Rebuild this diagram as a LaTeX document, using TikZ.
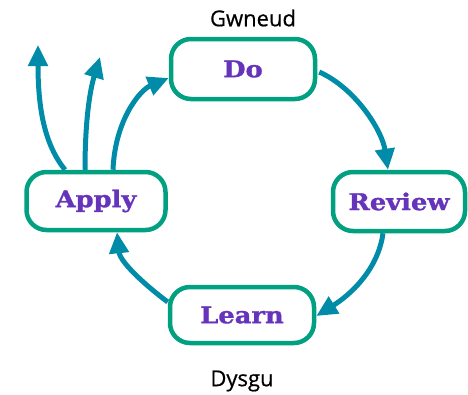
\documentclass[tikz,border=0pt]{standalone}
\usepackage{fontspec}
\newfontfamily\boxfont{DejaVu Serif}[FakeStretch=1.12,FakeBold=1.2]
\newfontfamily\lblfont{Open Sans}[FakeBold=0.6]
\usetikzlibrary{arrows.meta,calc}
\definecolor{boxgreen}{RGB}{0,160,128}
\definecolor{arrowteal}{RGB}{0,140,168}
\definecolor{txtpurple}{RGB}{102,51,187}
\tikzset{
  box/.style={draw=boxgreen, line width=4.5pt, rounded corners=20pt, fill=white,
    font=\boxfont\bfseries\fontsize{23}{27}\selectfont, text=txtpurple, inner sep=0pt},
  lbl/.style={font=\lblfont\fontsize{22}{26}\selectfont, text=black, inner sep=0pt},
  conn/.style={draw=arrowteal, line width=5pt, -{Triangle[length=21pt,width=19pt]}}
}
\begin{document}
\begin{tikzpicture}[x=1pt,y=-1pt]
\useasboundingbox (0,0) rectangle (468,394);
\node[box, minimum width=144pt, minimum height=60pt] (do) at (243,69) {Do};
\node[box, minimum width=132pt, minimum height=59pt] (review) at (399,201.5) {Review};
\node[box, minimum width=139pt, minimum height=58pt] (apply) at (96,201) {Apply};
\node[box, minimum width=144pt, minimum height=56pt] (learn) at (242,315) {Learn};
\node[lbl] (gw) at (253,18) {Gwneud};
\node[lbl] (dy) at (242,381) {Dysgu};
\coordinate (free1) at (38,45);
\coordinate (free2) at (100,57);
\draw[conn] ($(apply.north)+(17,0)$) .. controls (115,120) and (140,90) .. ($(do.west)+(0,9)$);
\draw[conn] ($(do.east)+(2,3)$) .. controls (355,88) and (382,130) .. ($(review.north)+(-11,0)$);
\draw[conn] ($(review.south)+(-16,0)$) .. controls (378,270) and (350,295) .. ($(learn.east)+(0,1)$);
\draw[conn] ($(learn.west)+(0,-13)$) .. controls (145,285) and (120,262) .. ($(apply.south)+(21,0)$);
\draw[conn] ($(apply.north)+(-31,0)$) .. controls (45,145) and (38,110) .. (free1);
\draw[conn] ($(apply.north)+(-11,0)$) .. controls (85,120) and (90,90) .. (free2);
\end{tikzpicture}
\end{document}
